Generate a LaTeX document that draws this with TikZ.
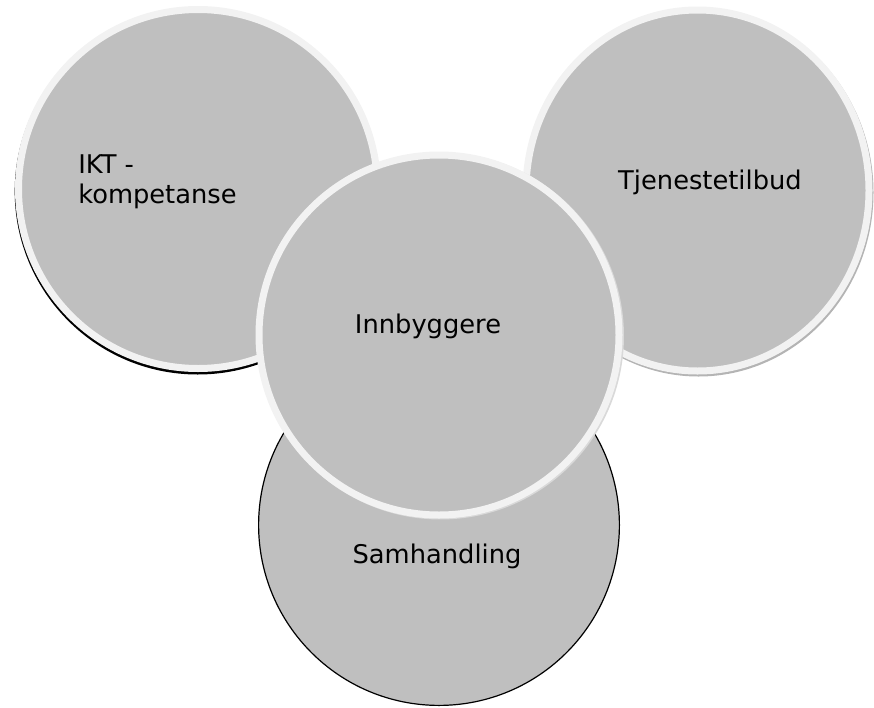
\documentclass[tikz,border=0pt]{standalone}
\usepackage{fontspec}
\setmainfont{DejaVu Sans}
\usetikzlibrary{shapes.geometric}
\definecolor{boblegraa}{HTML}{BFBFBF}
\definecolor{ringgraa}{HTML}{F2F2F2}
\definecolor{skyggegraa}{HTML}{B4B4B4}
\tikzset{
  boble/.style={circle, fill=boblegraa, draw=ringgraa, line width=5.25pt, inner sep=0pt, outer sep=0pt,
    minimum size={1.5pt*#1-5.25pt}},
  tekst/.style={font=\fontsize{19.3}{22.5}\selectfont, inner sep=0pt, text=black}
}
\begin{document}
\begin{tikzpicture}[x=0.75pt, y=-0.75pt]
				\useasboundingbox (0,0) rectangle (874,707);
				% Venstre sirkel med svart skygge
				\fill[black] (197.7,191.5) circle[radius=137.25pt];
				\node[boble=183] (ikt) at (198,189) {};
				
				% Høyre sirkel med grå skygge
				\fill[skyggegraa] (698.5,192.5) ellipse[x radius=131.25pt, y radius=138pt];
				\node[boble=175, ellipse, minimum height={1.5pt*184-5.25pt}] (tjeneste) at (697.5,190.5) {};
				
				% Nedre sirkel med svart kant
				\node[circle, fill=boblegraa, draw=black, line width=0.9pt, inner sep=0pt,
					minimum size={1.5pt*181-0.9pt}] (samh) at (439,525) {};
				
				% Midtre sirkel over de andre
				\fill[black!15] (440.5,336) circle[radius=137.6pt];
				\node[boble=183.5] (innb) at (439,335) {};
				
				% Tekstene
				\node[tekst, anchor=west, align=left] (iktlbl) at (78,182) {IKT -\\kompetanse};
				\node[tekst, anchor=base] (tjenestelbl) at (710,189) {Tjenestetilbud};
				\node[tekst, anchor=base] (innblbl) at (428,333) {Innbyggere};
				\node[tekst, anchor=base] (samhlbl) at (437,563) {Samhandling};
\end{tikzpicture}
\end{document}
